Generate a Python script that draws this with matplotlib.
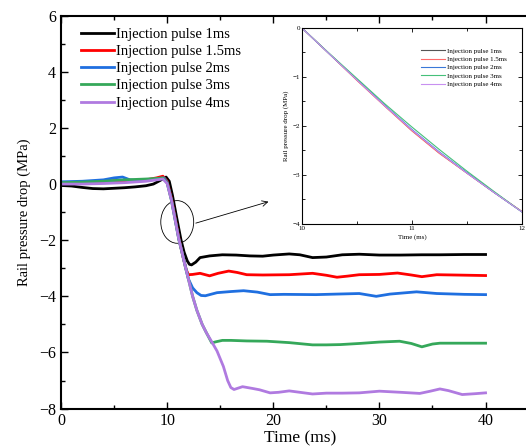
import matplotlib.pyplot as plt
from matplotlib.patches import Ellipse

plt.rcParams['font.family'] = ['Liberation Serif', 'DejaVu Serif']

labels = ['Injection pulse 1ms', 'Injection pulse 1.5ms', 'Injection pulse 2ms',
          'Injection pulse 3ms', 'Injection pulse 4ms']
colors = ['#000000', '#ff0000', '#1f6fe0', '#35a85a', '#b07ae0']
inset_colors = ['#555555', '#ff6a6a', '#3a78d8', '#45c07a', '#c890f0']

# main chart: time (ms) and rail pressure drop (MPa)
t_1ms = [0, 1, 2, 3, 4, 5, 6, 7, 8, 8.7, 9.3, 9.9, 10.2, 10.5, 10.9, 11.3, 11.6,
         11.9, 12.1, 12.3, 12.7, 13.1, 14, 15.2, 16.5, 17.8, 19, 20, 21.5, 22.5,
         23.7, 25, 26.5, 28.1, 30, 32, 34, 35.7, 38, 40]
p_1ms = [-0.05, -0.07, -0.12, -0.16, -0.17, -0.15, -0.13, -0.1, -0.06, 0.0, 0.12,
         0.25, 0.1, -0.4, -1.2, -1.98, -2.43, -2.74, -2.86, -2.88, -2.78, -2.62,
         -2.56, -2.52, -2.53, -2.56, -2.57, -2.53, -2.49, -2.52, -2.62, -2.6,
         -2.52, -2.5, -2.53, -2.53, -2.52, -2.52, -2.51, -2.51]

t_15ms = [0, 2, 4, 5, 6, 7, 8, 9, 9.6, 10.0, 10.4, 10.8, 11.1, 11.5, 11.8, 12.0,
          12.4, 13.1, 13.5, 14.0, 14.8, 15.8, 16.6, 17.5, 19, 21.5, 23.7, 25, 26,
          27, 28.1, 30, 31.7, 33, 34, 35.4, 37, 40]
p_15ms = [0.03, 0.05, 0.08, 0.12, 0.1, 0.1, 0.15, 0.22, 0.28, 0.1, -0.5, -1.3,
          -1.92, -2.6, -3.05, -3.23, -3.22, -3.18, -3.22, -3.27, -3.18, -3.1, -3.15,
          -3.23, -3.24, -3.23, -3.18, -3.25, -3.32, -3.28, -3.23, -3.22, -3.17,
          -3.24, -3.3, -3.23, -3.24, -3.26]

t_2ms = [0, 2, 4, 5, 5.8, 6.5, 7.5, 8.5, 9.3, 9.7, 10.0, 10.4, 10.8, 11.1, 11.4,
         11.7, 12.0, 12.4, 12.8, 13.2, 13.6, 14.2, 14.7, 16, 17.2, 18.5, 19.7, 21,
         24, 26, 28.1, 29.7, 31, 33.5, 35.4, 38, 40]
p_2ms = [0.08, 0.1, 0.15, 0.22, 0.25, 0.15, 0.12, 0.15, 0.2, 0.22, 0.06, -0.55,
         -1.35, -1.96, -2.43, -2.9, -3.38, -3.7, -3.87, -3.97, -3.98, -3.92, -3.87,
         -3.83, -3.8, -3.85, -3.94, -3.93, -3.94, -3.92, -3.9, -4.0, -3.92, -3.84,
         -3.9, -3.93, -3.94]

t_3ms = [0, 2, 4, 6, 8, 9, 9.6, 10.0, 10.4, 10.8, 11.1, 11.4, 11.7, 12.0, 12.4,
         12.8, 13.3, 13.7, 14.2, 14.6, 15.2, 16, 17.5, 19.4, 21.5, 23.7, 25, 26.3,
         28.1, 30, 31.9, 33, 34, 35, 35.7, 38, 40]
p_3ms = [0.05, 0.07, 0.1, 0.15, 0.18, 0.2, 0.22, 0.04, -0.57, -1.37, -1.97, -2.43,
         -2.93, -3.38, -4.0, -4.5, -5.0, -5.3, -5.66, -5.62, -5.57, -5.57, -5.59,
         -5.6, -5.65, -5.73, -5.73, -5.72, -5.68, -5.63, -5.6, -5.68, -5.8, -5.7,
         -5.67, -5.67, -5.67]

t_4ms = [0, 2, 4, 6, 8, 9, 9.6, 10.0, 10.4, 10.8, 11.1, 11.4, 11.7, 12.0, 12.4,
         12.8, 13.3, 13.7, 14.2, 14.7, 15.3, 15.7, 16.0, 16.3, 17.1, 18, 18.7,
         19.7, 20.5, 21.5, 22.5, 23.7, 25, 26.5, 28.1, 30, 32, 33.8, 34.8, 35.7,
         36.5, 37.8, 39, 40]
p_4ms = [0.0, 0.0, 0.02, 0.05, 0.1, 0.15, 0.18, 0.02, -0.57, -1.37, -1.97, -2.43,
         -2.93, -3.38, -4.0, -4.5, -5.0, -5.3, -5.62, -5.95, -6.5, -7.0, -7.25,
         -7.32, -7.22, -7.28, -7.33, -7.44, -7.42, -7.37, -7.42, -7.48, -7.45,
         -7.45, -7.44, -7.38, -7.42, -7.46, -7.38, -7.3, -7.36, -7.5, -7.47, -7.44]

# inset: zoom on 10-12 ms
t_in = [10, 10.25, 10.5, 10.75, 11, 11.25, 11.5, 11.75, 12]
p_in = [
    [0, -0.53, -1.06, -1.58, -2.09, -2.55, -2.96, -3.36, -3.75],
    [0, -0.53, -1.07, -1.59, -2.1, -2.56, -2.96, -3.36, -3.74],
    [0, -0.53, -1.05, -1.57, -2.07, -2.53, -2.95, -3.36, -3.75],
    [0, -0.52, -1.03, -1.54, -2.02, -2.48, -2.92, -3.34, -3.75],
    [0, -0.53, -1.06, -1.58, -2.08, -2.54, -2.96, -3.36, -3.75],
]

times = [t_1ms, t_15ms, t_2ms, t_3ms, t_4ms]
drops = [p_1ms, p_15ms, p_2ms, p_3ms, p_4ms]

fig = plt.figure(figsize=(5.26, 4.48), dpi=100)
ax = fig.add_axes([0.116, 0.088, 0.908, 0.877])

for t, p, c, lab in zip(times, drops, colors, labels):
    ax.plot(t, p, color=c, lw=2.0, label=lab)

ax.set_xlim(0, 45)
ax.set_ylim(-8, 6)
ax.set_xticks([0, 10, 20, 30, 40])
ax.set_xticks([5, 15, 25, 35], minor=True)
ax.set_yticks([-8, -6, -4, -2, 0, 2, 4, 6])
ax.set_yticks([-7, -5, -3, -1, 1, 3, 5], minor=True)
ax.tick_params(which='both', direction='in', top=True, right=False, labelsize=11.5, width=1)
ax.tick_params(which='major', length=5)
ax.tick_params(which='minor', length=3)
for s in ax.spines.values():
    s.set_linewidth(1.5)
ax.set_xlabel('Time (ms)', fontsize=12.5, labelpad=1)
ax.set_ylabel('Rail pressure drop (MPa)', fontsize=10.5, labelpad=6)

ax.legend(loc='upper left', bbox_to_anchor=(0.02, 0.995), frameon=False, fontsize=10.5,
          handlelength=2.3, handletextpad=0.1, labelspacing=0.27, borderaxespad=0.3)

ax.add_patch(Ellipse((10.95, -1.35), 3.1, 1.52, fill=False, ec='black', lw=0.6))
ax.annotate('', xy=(19.8, -0.6), xytext=(12.45, -1.42),
            arrowprops=dict(arrowstyle='->', color='black', lw=0.6))

# inset
axi = fig.add_axes([0.574, 0.5, 0.418, 0.4375])
for p, c, lab in zip(p_in, inset_colors, labels):
    axi.plot(t_in, p, color=c, lw=0.8, label=lab)
axi.set_xlim(10, 12)
axi.set_ylim(-4, 0)
axi.set_xticks([10, 11, 12])
axi.set_xticks([10.5, 11.5], minor=True)
axi.set_yticks([-4, -3, -2, -1, 0])
axi.set_yticks([-3.5, -2.5, -1.5, -0.5], minor=True)
axi.tick_params(which='both', direction='in', top=True, right=True, labelsize=5, width=0.6, pad=1.5)
axi.tick_params(which='major', length=3)
axi.tick_params(which='minor', length=2)
for s in axi.spines.values():
    s.set_linewidth(0.8)
axi.set_xlabel('Time (ms)', fontsize=5, labelpad=2)
axi.set_ylabel('Rail pressure drop (MPa)', fontsize=5, labelpad=2)
axi.legend(loc='upper right', bbox_to_anchor=(0.96, 0.93), frameon=False, fontsize=5,
           handlelength=3.5, handletextpad=0.2, labelspacing=0.35)

fig.savefig('out.png', dpi=100)
